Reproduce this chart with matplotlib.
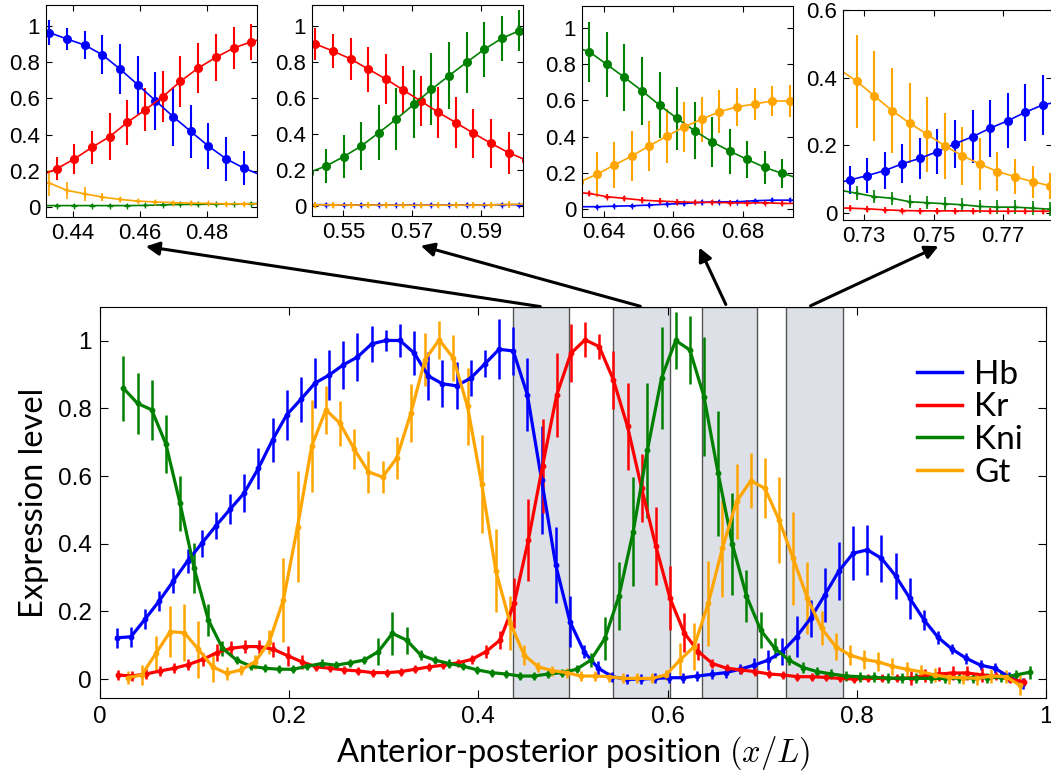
import numpy as np
import matplotlib
matplotlib.use('Agg')
import matplotlib.pyplot as plt
from matplotlib.lines import Line2D
from matplotlib.patches import FancyArrowPatch

plt.rcParams['font.family'] = ['Liberation Sans', 'DejaVu Sans']
plt.rcParams['mathtext.fontset'] = 'cm'

# colours of the four gap genes
c_hb, c_kr, c_kni, c_gt = '#0000ff', '#ff0000', '#008000', '#ffa500'
gene_names = ['Hb', 'Kr', 'Kni', 'Gt']

# ---- main profiles (sampling grid start, common step) ----
step = 0.01497
hb_x0, kr_x0, kni_x0, gt_x0 = 0.0177, 0.0187, 0.0247, 0.0292

hb = [0.122, 0.125, 0.177, 0.231, 0.290, 0.349, 0.401, 0.453, 0.502, 0.550,
      0.623, 0.707, 0.781, 0.827, 0.875, 0.899, 0.929, 0.952, 0.991, 1.001,
      1.001, 0.964, 0.896, 0.873, 0.867, 0.890, 0.932, 0.975, 0.970, 0.840,
      0.589, 0.337, 0.170, 0.081, 0.032, 0.007, -0.001, 0.000, 0.002, 0.004,
      0.004, 0.009, 0.014, 0.019, 0.029, 0.041, 0.056, 0.081, 0.125, 0.180,
      0.249, 0.320, 0.372, 0.382, 0.357, 0.305, 0.239, 0.175, 0.123, 0.088,
      0.061, 0.041, 0.032, 0.007, -0.013]
hb_err = [0.03, 0.03, 0.03, 0.03, 0.037, 0.035, 0.04, 0.04, 0.045, 0.055,
          0.06, 0.065, 0.075, 0.066, 0.074, 0.074, 0.071, 0.07, 0.054, 0.03,
          0.05, 0.064, 0.07, 0.07, 0.07, 0.054, 0.04, 0.089, 0.071, 0.108,
          0.16, 0.113, 0.076, 0.02, 0.02, 0.015, 0.015, 0.015, 0.015, 0.015,
          0.015, 0.015, 0.015, 0.015, 0.015, 0.02, 0.03, 0.04, 0.06, 0.055,
          0.08, 0.086, 0.08, 0.074, 0.07, 0.067, 0.06, 0.03, 0.02, 0.015,
          0.015, 0.015, 0.015, 0.015, 0.015]

kr = [0.012, 0.009, 0.015, 0.024, 0.032, 0.043, 0.058, 0.078, 0.091, 0.096,
      0.096, 0.088, 0.069, 0.051, 0.036, 0.032, 0.027, 0.024, 0.019, 0.019,
      0.022, 0.029, 0.036, 0.041, 0.048, 0.058, 0.081, 0.115, 0.224, 0.411,
      0.630, 0.840, 0.963, 1.003, 0.983, 0.885, 0.747, 0.564, 0.393, 0.239,
      0.137, 0.081, 0.046, 0.032, 0.027, 0.022, 0.015, 0.012, 0.007, 0.007,
      0.005, 0.002, 0.000, 0.002, 0.002, 0.002, 0.003, 0.010, 0.015, 0.018,
      0.018, 0.012, 0.008, 0.000, -0.008]
kr_err = [0.015, 0.015, 0.015, 0.015, 0.015, 0.015, 0.02, 0.025, 0.022, 0.02,
          0.02, 0.022, 0.03, 0.02, 0.012, 0.012, 0.012, 0.012, 0.012, 0.012,
          0.012, 0.012, 0.012, 0.012, 0.012, 0.012, 0.02, 0.027, 0.074, 0.12,
          0.14, 0.125, 0.086, 0.052, 0.037, 0.086, 0.128, 0.1, 0.116, 0.094,
          0.057, 0.025, 0.012, 0.012, 0.012, 0.012, 0.012, 0.012, 0.012, 0.012,
          0.012, 0.012, 0.012, 0.012, 0.012, 0.012, 0.02, 0.02, 0.02, 0.02,
          0.02, 0.02, 0.012, 0.012, 0.012]

kni = [0.860, 0.815, 0.796, 0.695, 0.520, 0.327, 0.175, 0.091, 0.056, 0.038,
       0.032, 0.029, 0.029, 0.038, 0.046, 0.041, 0.048, 0.056, 0.081, 0.135,
       0.115, 0.071, 0.056, 0.046, 0.038, 0.027, 0.019, 0.015, 0.009, 0.009,
       0.015, 0.019, 0.029, 0.056, 0.120, 0.246, 0.436, 0.676, 0.890, 1.001,
       0.973, 0.835, 0.608, 0.399, 0.246, 0.145, 0.091, 0.056, 0.034, 0.022,
       0.015, 0.009, 0.007, 0.005, 0.003, 0.002, 0.002, 0.002, 0.002, 0.003,
       0.003, 0.004, 0.005, 0.012, 0.020]
kni_err = [0.096, 0.09, 0.089, 0.086, 0.081, 0.074, 0.047, 0.022, 0.012, 0.012,
           0.012, 0.012, 0.012, 0.012, 0.012, 0.012, 0.012, 0.012, 0.04, 0.064,
           0.04, 0.015, 0.012, 0.012, 0.012, 0.012, 0.012, 0.012, 0.012, 0.012,
           0.012, 0.012, 0.012, 0.02, 0.064, 0.10, 0.16, 0.2, 0.15, 0.084,
           0.1, 0.175, 0.185, 0.15, 0.076, 0.054, 0.03, 0.015, 0.015, 0.015,
           0.015, 0.015, 0.015, 0.015, 0.015, 0.015, 0.015, 0.015, 0.015, 0.015,
           0.015, 0.015, 0.015, 0.015, 0.02]

gt = [0.004, 0.012, 0.076, 0.140, 0.137, 0.088, 0.036, 0.017, 0.027, 0.051,
      0.110, 0.234, 0.451, 0.689, 0.796, 0.756, 0.680, 0.613, 0.597, 0.653,
      0.786, 0.944, 1.003, 0.949, 0.806, 0.577, 0.320, 0.167, 0.071, 0.036,
      0.025, 0.019, 0.009, 0.009, 0.007, 0.002, 0.002, 0.002, 0.012, 0.056,
      0.096, 0.224, 0.387, 0.525, 0.586, 0.564, 0.470, 0.357, 0.239, 0.150,
      0.096, 0.071, 0.058, 0.051, 0.038, 0.029, 0.022, 0.012, 0.005, 0.004,
      0.002, 0.009, 0.007, -0.018]
gt_err = [0.02, 0.03, 0.05, 0.076, 0.084, 0.084, 0.045, 0.02, 0.015, 0.02,
          0.035, 0.123, 0.165, 0.135, 0.07, 0.067, 0.06, 0.062, 0.047, 0.062,
          0.086, 0.079, 0.057, 0.067, 0.113, 0.145, 0.123, 0.08, 0.03, 0.015,
          0.015, 0.015, 0.015, 0.015, 0.015, 0.015, 0.015, 0.015, 0.015, 0.05,
          0.07, 0.126, 0.143, 0.111, 0.081, 0.089, 0.126, 0.138, 0.106, 0.05,
          0.04, 0.03, 0.028, 0.028, 0.025, 0.022, 0.02, 0.02, 0.02, 0.02,
          0.02, 0.02, 0.02, 0.03]

# shaded windows shown in the insets
windows = [(0.437, 0.4963), (0.5425, 0.6024), (0.636, 0.6942), (0.7256, 0.7855)]

# ---- inset profiles: x0 is the first visible sample, the first and last
# ---- values lie one step outside the window
in1_step, in1_xa, in1_xb = 0.00527, 0.4330, 0.4352
in1_hb = [0.99, 0.963, 0.927, 0.894, 0.84, 0.761, 0.675, 0.587, 0.499, 0.417, 0.336, 0.266, 0.215, 0.175]
in1_hb_err = [0.07, 0.071, 0.06, 0.079, 0.107, 0.138, 0.16, 0.16, 0.162, 0.147, 0.126, 0.12, 0.096, 0.09]
in1_kr = [0.17, 0.211, 0.266, 0.330, 0.389, 0.468, 0.536, 0.609, 0.694, 0.767, 0.826, 0.877, 0.912, 0.94]
in1_kr_err = [0.06, 0.064, 0.083, 0.092, 0.128, 0.124, 0.119, 0.142, 0.14, 0.138, 0.13, 0.117, 0.1, 0.1]
in1_gt = [0.15, 0.132, 0.092, 0.073, 0.055, 0.042, 0.033, 0.028, 0.024, 0.022, 0.02, 0.018, 0.018, 0.017]
in1_gt_err = [0.07, 0.07, 0.046, 0.037, 0.02, 0.012, 0.01, 0.01, 0.01, 0.01, 0.01, 0.01, 0.01, 0.01]
in1_kni = [0.008, 0.008, 0.008, 0.008, 0.008, 0.008, 0.009, 0.012, 0.014, 0.015, 0.016, 0.017, 0.019, 0.02]
in1_kni_err = [0.008, 0.008, 0.008, 0.008, 0.008, 0.008, 0.008, 0.008, 0.008, 0.008, 0.008, 0.008, 0.008, 0.008]

in2_step, in2_xa, in2_xb = 0.00511, 0.5419, 0.5450
in2_kr = [0.92, 0.9, 0.861, 0.817, 0.761, 0.706, 0.644, 0.583, 0.52, 0.463, 0.404, 0.348, 0.296, 0.255]
in2_kr_err = [0.09, 0.088, 0.097, 0.116, 0.125, 0.137, 0.134, 0.14, 0.14, 0.14, 0.136, 0.137, 0.116, 0.11]
in2_kni = [0.185, 0.222, 0.274, 0.333, 0.407, 0.483, 0.565, 0.648, 0.724, 0.798, 0.870, 0.931, 0.974, 1.0]
in2_kni_err = [0.09, 0.097, 0.12, 0.134, 0.153, 0.17, 0.19, 0.2, 0.185, 0.17, 0.155, 0.125, 0.114, 0.11]
in2_gt = [0.006, 0.006, 0.006, 0.005, 0.005, 0.005, 0.004, 0.004, 0.004, 0.005, 0.005, 0.006, 0.008, 0.01]
in2_gt_err = [0.018, 0.018, 0.018, 0.018, 0.018, 0.018, 0.018, 0.018, 0.018, 0.018, 0.018, 0.018, 0.018, 0.018]
in2_hb = [0.007, 0.007, 0.006, 0.006, 0.006, 0.005, 0.005, 0.005, 0.005, 0.006, 0.006, 0.007, 0.007, 0.008]
in2_hb_err = [0.012, 0.012, 0.012, 0.012, 0.012, 0.012, 0.012, 0.012, 0.012, 0.012, 0.012, 0.012, 0.012, 0.012]

in3_step, in3_xa, in3_xb = 0.00506, 0.6358, 0.6379
in3_kni = [0.9, 0.868, 0.798, 0.727, 0.653, 0.574, 0.501, 0.433, 0.372, 0.321, 0.275, 0.231, 0.198, 0.17]
in3_kni_err = [0.16, 0.165, 0.179, 0.183, 0.187, 0.18, 0.172, 0.156, 0.138, 0.124, 0.103, 0.092, 0.08, 0.075]
in3_gt = [0.15, 0.193, 0.244, 0.294, 0.35, 0.404, 0.455, 0.497, 0.538, 0.565, 0.58, 0.598, 0.596, 0.59]
in3_gt_err = [0.12, 0.124, 0.128, 0.138, 0.138, 0.147, 0.138, 0.124, 0.119, 0.106, 0.087, 0.084, 0.087, 0.085]
in3_kr = [0.095, 0.088, 0.07, 0.061, 0.051, 0.046, 0.042, 0.039, 0.039, 0.037, 0.035, 0.037, 0.033, 0.033]
in3_kr_err = [0.015, 0.015, 0.015, 0.015, 0.015, 0.015, 0.015, 0.015, 0.015, 0.015, 0.015, 0.015, 0.015, 0.015]
in3_hb = [0.015, 0.015, 0.018, 0.02, 0.024, 0.029, 0.033, 0.039, 0.042, 0.042, 0.048, 0.051, 0.051, 0.052]
in3_hb_err = [0.012, 0.012, 0.012, 0.012, 0.012, 0.012, 0.012, 0.012, 0.012, 0.012, 0.012, 0.012, 0.012, 0.012]

in4_step, in4_xa, in4_xb = 0.00506, 0.7258, 0.7279
in4_hb = [0.085, 0.098, 0.111, 0.126, 0.146, 0.162, 0.182, 0.205, 0.226, 0.251, 0.273, 0.298, 0.32, 0.33]
in4_hb_err = [0.04, 0.042, 0.052, 0.054, 0.057, 0.061, 0.066, 0.071, 0.079, 0.084, 0.081, 0.084, 0.089, 0.09]
in4_gt = [0.425, 0.389, 0.346, 0.303, 0.266, 0.233, 0.199, 0.17, 0.145, 0.123, 0.108, 0.093, 0.081, 0.075]
in4_gt_err = [0.14, 0.138, 0.133, 0.125, 0.118, 0.111, 0.098, 0.086, 0.076, 0.057, 0.052, 0.047, 0.039, 0.035]
in4_kni = [0.068, 0.059, 0.049, 0.044, 0.034, 0.031, 0.028, 0.025, 0.02, 0.018, 0.018, 0.015, 0.012, 0.012]
in4_kni_err = [0.02, 0.02, 0.02, 0.02, 0.02, 0.02, 0.02, 0.02, 0.02, 0.02, 0.02, 0.02, 0.02, 0.02]
in4_kr = [0.016, 0.015, 0.013, 0.01, 0.008, 0.007, 0.007, 0.007, 0.007, 0.006, 0.006, 0.006, 0.006, 0.006]
in4_kr_err = [0.008, 0.008, 0.008, 0.008, 0.008, 0.008, 0.008, 0.008, 0.008, 0.008, 0.008, 0.008, 0.008, 0.008]

W, H = 1051, 784
fig = plt.figure(figsize=(W / 100, H / 100), dpi=100)


def px_axes(left, top, right, bottom):
    return fig.add_axes([left / W, 1 - bottom / H, (right - left) / W, (bottom - top) / H])


def grid(x0, dx, n):
    return x0 + dx * np.arange(n)


# ---------------- main panel ----------------
ax = px_axes(100, 307, 1046, 698)
for a, b in windows:
    ax.axvspan(a, b, facecolor='#dde1e7', edgecolor='#555555', lw=1.0, zorder=0)

main_series = [(hb_x0, hb, hb_err, c_hb), (kr_x0, kr, kr_err, c_kr),
               (kni_x0, kni, kni_err, c_kni), (gt_x0, gt, gt_err, c_gt)]
for x0, y, e, c in main_series:
    ax.errorbar(grid(x0, step, len(y)), y, yerr=e, color=c, lw=2.3, marker='o', ms=3.2,
                elinewidth=1.8, capsize=0)

ax.set_xlim(0, 1)
ax.set_ylim(-0.056, 1.1)
ax.set_xticks([0, 0.2, 0.4, 0.6, 0.8, 1])
ax.set_xticklabels(['0', '0.2', '0.4', '0.6', '0.8', '1'])
ax.set_yticks([0, 0.2, 0.4, 0.6, 0.8, 1])
ax.set_yticklabels(['0', '0.2', '0.4', '0.6', '0.8', '1'])
ax.tick_params(direction='in', top=True, right=True, labelsize=17.5, length=6, pad=6)
ax.set_xlabel('Anterior-posterior position $(x/L)$', fontsize=23.5, family='Lato', labelpad=4)
ax.set_ylabel('Expression level', fontsize=23.5, family='Lato', labelpad=6)

handles = [Line2D([], [], color=c, lw=2.5) for c in [c_hb, c_kr, c_kni, c_gt]]
ax.legend(handles, gene_names, loc='upper right', bbox_to_anchor=(1.0, 0.925), frameon=False,
          prop={'family': 'Lato', 'size': 24}, handlelength=1.35, handletextpad=0.35,
          labelspacing=0.08, borderpad=0.2)

# ---------------- insets ----------------
insets = [
    ((45.7, 5, 257, 217), (0.4319, 0.4949), (-0.055, 1.115), [0.44, 0.46, 0.48],
     [(in1_xa, in1_step, in1_hb, in1_hb_err, c_hb, 'o'), (in1_xb, in1_step, in1_kr, in1_kr_err, c_kr, 'o'),
      (in1_xb, in1_step, in1_kni, in1_kni_err, c_kni, '+'), (in1_xa, in1_step, in1_gt, in1_gt_err, c_gt, '+')]),
    ((311.7, 5, 523.3, 216), (0.5408, 0.6024), (-0.056, 1.117), [0.55, 0.57, 0.59],
     [(in2_xb, in2_step, in2_hb, in2_hb_err, c_hb, '+'), (in2_xa, in2_step, in2_kr, in2_kr_err, c_kr, 'o'),
      (in2_xb, in2_step, in2_kni, in2_kni_err, c_kni, 'o'), (in2_xa, in2_step, in2_gt, in2_gt_err, c_gt, '+')]),
    ((581.7, 6, 793.3, 216.7), (0.6336, 0.6946), (-0.04, 1.12), [0.64, 0.66, 0.68],
     [(in3_xb, in3_step, in3_hb, in3_hb_err, c_hb, '+'), (in3_xa, in3_step, in3_kr, in3_kr_err, c_kr, '+'),
      (in3_xa, in3_step, in3_kni, in3_kni_err, c_kni, 'o'), (in3_xb, in3_step, in3_gt, in3_gt_err, c_gt, 'o')]),
    ((842.7, 10, 1052, 220), (0.7238, 0.7841), (-0.02, 0.6), [0.73, 0.75, 0.77],
     [(in4_xa, in4_step, in4_hb, in4_hb_err, c_hb, 'o'), (in4_xa, in4_step, in4_kr, in4_kr_err, c_kr, '+'),
      (in4_xb, in4_step, in4_kni, in4_kni_err, c_kni, '+'), (in4_xb, in4_step, in4_gt, in4_gt_err, c_gt, 'o')]),
]

for box, xlim, ylim, xt, series in insets:
    ia = px_axes(*box)
    for x0, dx, y, e, c, m in series:
        xs = grid(x0 - dx, dx, len(y))
        if m == 'o':
            ia.errorbar(xs, y, yerr=e, color=c, lw=1.2, marker='o', ms=5.5,
                        elinewidth=1.5, capsize=0)
        else:
            ia.errorbar(xs, y, yerr=e, color=c, lw=1.2, marker='+', ms=5,
                        mew=1.0, elinewidth=1.2, capsize=0)
    ia.set_xlim(*xlim)
    ia.set_ylim(*ylim)
    ia.set_xticks(xt)
    ia.set_xticklabels(['%g' % v for v in xt])
    yt = [0, 0.2, 0.4, 0.6] if ylim[1] < 1 else [0, 0.2, 0.4, 0.6, 0.8, 1]
    ia.set_yticks(yt)
    ia.set_yticklabels(['%g' % v for v in yt])
    ia.tick_params(direction='in', top=True, right=True, labelsize=16, length=4, pad=4)

# arrows from the shaded windows up to the insets (figure pixels)
arrows = [((543, 307), (143, 246)), ((643, 307), (418, 245)),
          ((727, 307), (698, 245)), ((808, 307), (941, 245))]
for (x1, y1), (x2, y2) in arrows:
    fig.add_artist(FancyArrowPatch((x1 / W, 1 - y1 / H), (x2 / W, 1 - y2 / H),
                                   transform=fig.transFigure, arrowstyle='-|>',
                                   mutation_scale=20, lw=2.2, color='black'))

fig.savefig('out.png', dpi=100)
